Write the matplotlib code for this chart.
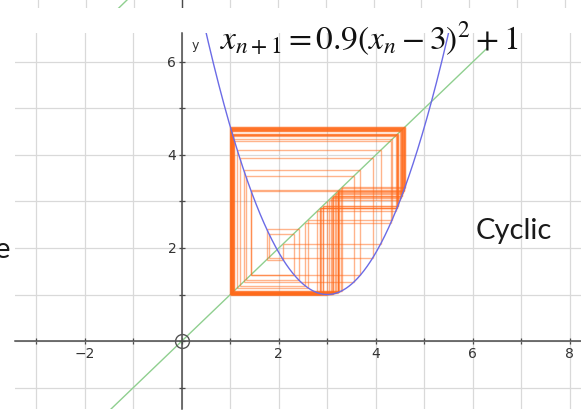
import matplotlib
matplotlib.use("Agg")
import matplotlib.pyplot as plt
import numpy as np
from matplotlib.collections import LineCollection
from matplotlib.ticker import MultipleLocator, FuncFormatter

plt.rcParams.update({"mathtext.fontset": "stix", "font.family": "DejaVu Sans"})

# map x_{n+1} = A (x_n - H)^2 + K
A, H, K = 0.9, 3.0, 1.0
X0 = 3.0
N_ITER = 80

X_LIM = (-3.44, 8.23)
Y_LIM = (-1.46, 6.62)
DIAG = (-1.6, 6.3)          # extent of the y = x reference line
X_MAJOR = [-2, 2, 4, 6, 8]  # labelled ticks
Y_MAJOR = [2, 4, 6]

GRID = "#d9d9d9"
AXIS = "#4a4a4a"
CURVE = "#6b6be6"
DIAG_C = "#8fcf8f"
WEB = "#ff6a1a"

W, Hpx = 581, 412


def box(x0, y0, x1, y1):
    return [x0 / W, 1 - y1 / Hpx, (x1 - x0) / W, (y1 - y0) / Hpx]


def f(x):
    return A * (x - H) ** 2 + K


fig = plt.figure(figsize=(W / 100, Hpx / 100), dpi=100)

# thin sliver of the previous graph at the very top
top = fig.add_axes(box(15, 0, 581, 8))
top.set_xlim((15 - 182) / 47.9, (581 - 182) / 47.9)
top.set_ylim(-1.32, -1.32 + 8 / 46.5)
top.xaxis.set_major_locator(MultipleLocator(1))
top.grid(axis="x", color=GRID, lw=0.9)
top.axvline(0, color=AXIS, lw=1)
top.plot(DIAG, DIAG, color=DIAG_C, lw=1)
top.tick_params(length=0, labelbottom=False, labelleft=False)
for s in top.spines.values():
    s.set_visible(False)

ax = fig.add_axes(box(15, 33, 581, 409))
ax.set_xlim(*X_LIM)
ax.set_ylim(*Y_LIM)
ax.xaxis.set_major_locator(MultipleLocator(2))
ax.xaxis.set_minor_locator(MultipleLocator(1))
ax.yaxis.set_major_locator(MultipleLocator(2))
ax.yaxis.set_minor_locator(MultipleLocator(1))
ax.grid(which="both", color=GRID, lw=0.9, zorder=0)
ax.set_axisbelow(True)

fmt = FuncFormatter(lambda v, p: "" if abs(v) < 1e-9 else f"{v:g}".replace("-", "\u2212"))
ax.xaxis.set_major_formatter(fmt)
ax.yaxis.set_major_formatter(fmt)
ax.tick_params(which="both", direction="inout", length=4, width=0.9, color=AXIS,
               labelsize=10, labelcolor="#333333", pad=2)
for side in ("top", "right"):
    ax.spines[side].set_visible(False)
for side in ("left", "bottom"):
    ax.spines[side].set_position("zero")
    ax.spines[side].set_color(AXIS)
    ax.spines[side].set_linewidth(1.1)
ax.text(0.2, Y_LIM[1] - 0.12, "y", fontsize=9, color="#333333", va="top")

# y = x
ax.plot(DIAG, DIAG, color=DIAG_C, lw=1, zorder=2)

# cobweb iterations
segs = []
x = X0
pts = [(x, x)]
for _ in range(N_ITER):
    y = f(x)
    pts.append((x, y))
    pts.append((y, y))
    x = y
for p, q in zip(pts[:-1], pts[1:]):
    segs.append([p, q])
ax.add_collection(LineCollection(segs, colors=WEB, linewidths=1.0, alpha=0.5, zorder=3))

# parabola
xs = np.linspace(-1, 7, 600)
ax.plot(xs, f(xs), color=CURVE, lw=1, zorder=4)

ax.plot(0, 0, "o", mfc="none", mec="#555555", ms=10, mew=1, zorder=5)

fig.text(220 / W, 1 - 50 / Hpx, r"$x_{n+1} = 0.9\left(x_n - 3\right)^2 + 1$",
         fontsize=24, va="baseline", color="#111111")
fig.text(476 / W, 1 - 239 / Hpx, "Cyclic", fontsize=21, va="baseline",
         family=["Lato", "DejaVu Sans"], color="#1a1a1a")
fig.text(10 / W, 1 - 258 / Hpx, "e", fontsize=21, va="baseline", ha="right",
         family=["Lato", "DejaVu Sans"], color="#1a1a1a")

fig.savefig("out.png", dpi=100, facecolor="white")
